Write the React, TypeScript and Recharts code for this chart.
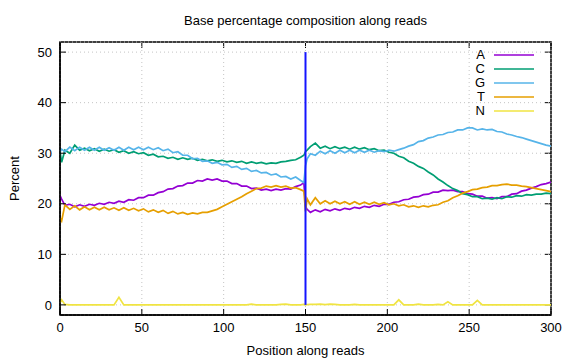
import React from 'react';
import { LineChart, Line, XAxis, YAxis, CartesianGrid, ReferenceLine, Legend } from 'recharts';

const FONT = '"Liberation Sans", Arial, sans-serif';

// read position along reads
const positions = [
  0, 1, 3, 6, 9, 12, 15, 18, 21, 24,
  27, 30, 33, 36, 39, 42, 45, 48, 51, 54,
  57, 60, 63, 66, 69, 72, 75, 78, 81, 84,
  87, 90, 93, 96, 99, 102, 105, 108, 111, 114,
  117, 120, 123, 126, 129, 132, 135, 138, 141, 144,
  147, 149, 150, 151, 153, 156, 159, 162, 165, 168,
  171, 174, 177, 180, 183, 186, 189, 192, 195, 198,
  201, 204, 207, 210, 213, 216, 219, 222, 225, 228,
  231, 234, 237, 240, 243, 246, 249, 252, 255, 258,
  261, 264, 267, 270, 273, 276, 279, 282, 285, 288,
  291, 294, 297, 300,
];

const aPct = [
  21.6, 20.9, 19.7, 19.9, 19.4, 19.8, 19.5, 19.9, 19.7, 20.1,
  19.9, 20.3, 20.1, 20.5, 20.3, 20.8, 20.7, 21.2, 21.2, 21.7,
  21.7, 22.2, 22.4, 22.9, 23.0, 23.5, 23.6, 24.1, 24.1, 24.6,
  24.5, 24.9, 24.7, 24.9, 24.5, 24.5, 24.0, 24.0, 23.5, 23.5,
  23.0, 23.1, 22.7, 22.9, 22.6, 22.9, 22.7, 23.0, 22.9, 23.4,
  23.7, 24.2, 19.5, 18.9, 18.3, 18.8, 18.4, 18.9, 18.6, 19.0,
  18.7, 19.1, 18.9, 19.3, 19.1, 19.5, 19.3, 19.7, 19.5, 19.9,
  19.9, 20.3, 20.4, 20.8, 20.9, 21.3, 21.4, 21.8, 21.9, 22.3,
  22.3, 22.7, 22.6, 22.7, 22.4, 22.4, 22.0, 21.9, 21.5, 21.5,
  21.1, 21.2, 21.0, 21.4, 21.4, 21.9, 22.0, 22.5, 22.7, 23.1,
  23.4, 23.8, 24.0, 24.3,
];

const cPct = [
  30.4, 28.2, 30.6, 30.0, 31.6, 30.6, 31.0, 30.5, 30.9, 30.4,
  30.8, 30.4, 30.7, 30.2, 30.5, 30.0, 30.3, 29.9, 30.1, 29.6,
  29.8, 29.3, 29.4, 29.0, 29.2, 28.8, 29.1, 28.8, 29.0, 28.6,
  28.8, 28.5, 28.7, 28.4, 28.6, 28.3, 28.5, 28.2, 28.4, 28.0,
  28.3, 28.0, 28.2, 27.9, 28.1, 28.0, 28.3, 28.4, 28.6, 28.7,
  29.2, 29.6, 30.3, 30.6, 31.3, 32.0, 31.0, 31.4, 30.9, 31.3,
  30.9, 31.2, 30.8, 31.2, 30.8, 31.1, 30.7, 30.9, 30.5, 30.6,
  30.2, 30.0, 29.4, 29.1, 28.4, 28.0, 27.4, 27.0, 26.3, 25.7,
  24.9, 24.3, 23.6, 23.0, 22.6, 22.0, 21.8, 21.4, 21.4, 21.0,
  21.1, 20.9, 21.2, 21.0, 21.4, 21.3, 21.6, 21.5, 21.8, 21.7,
  21.9, 21.9, 22.1, 22.0,
];

const gPct = [
  30.2, 30.8, 30.3, 31.2, 30.5, 31.2, 30.6, 31.2, 30.6, 31.2,
  30.6, 31.1, 30.6, 31.2, 30.6, 31.2, 30.7, 31.2, 30.7, 31.2,
  30.7, 31.1, 30.5, 30.8, 30.1, 30.3, 29.6, 29.6, 28.9, 29.0,
  28.4, 28.5, 28.0, 28.2, 27.7, 27.8, 27.2, 27.4, 26.8, 27.0,
  26.4, 26.6, 26.1, 26.2, 25.7, 25.9, 25.3, 25.4, 24.9, 25.3,
  24.6, 24.2, 27.5, 28.9, 29.9, 29.6, 30.4, 29.9, 30.5, 30.0,
  30.6, 30.1, 30.6, 30.1, 30.6, 30.2, 30.6, 30.2, 30.5, 30.3,
  30.6, 30.4, 30.7, 31.0, 31.4, 31.7, 32.3, 32.5, 33.0, 33.2,
  33.6, 33.7, 34.1, 34.2, 34.6, 34.6, 35.0, 35.0, 34.6, 34.8,
  34.6, 34.7, 34.3, 34.2, 33.8, 33.6, 33.3, 33.1, 32.8, 32.5,
  32.2, 31.9, 31.6, 31.4,
];

const tPct = [
  17.2, 16.6, 19.8, 18.9, 19.6, 18.8, 19.4, 18.8, 19.3, 18.8,
  19.3, 18.8, 19.2, 18.7, 19.2, 18.7, 19.1, 18.6, 19.0, 18.4,
  18.8, 18.3, 18.7, 18.1, 18.5, 18.0, 18.3, 17.9, 18.2, 18.0,
  18.3, 18.3, 18.6, 18.9, 19.4, 19.9, 20.4, 20.9, 21.4, 22.0,
  22.5, 23.0, 23.1, 23.5, 23.3, 23.6, 23.3, 23.5, 23.1, 23.2,
  22.8, 22.5, 18.5, 21.0, 19.8, 21.2, 20.0, 20.6, 20.0, 20.5,
  20.0, 20.4, 19.9, 20.4, 19.9, 20.3, 19.9, 20.3, 19.9, 20.2,
  19.8, 20.0, 19.6, 19.8, 19.4, 19.6, 19.3, 19.6, 19.4, 19.7,
  19.8, 20.3, 20.6, 21.2, 21.6, 22.1, 22.4, 22.8, 22.9, 23.2,
  23.3, 23.6, 23.6, 23.8, 23.9, 23.7, 23.7, 23.5, 23.4, 23.2,
  23.0, 22.8, 22.6, 22.4,
];

const nPct = [
  0.4, 1.0, 0.1, 0, 0, 0, 0, 0, 0, 0,
  0, 0, 0, 1.5, 0, 0, 0, 0, 0, 0,
  0, 0, 0, 0, 0, 0, 0, 0, 0, 0,
  0, 0, 0, 0, 0, 0, 0, 0, 0, 0,
  0.15, 0, 0, 0, 0, 0, 0.1, 0.15, 0, 0,
  0, 0.1, 0, 0.05, 0.1, 0.1, 0.15, 0.05, 0.15, 0.1,
  0, 0, 0, 0.1, 0, 0, 0, 0, 0, 0,
  0, 0, 1.0, 0, 0, 0, 0.15, 0, 0, 0,
  0.1, 0, 0.6, 0, 0, 0, 0, 0, 0.9, 0,
  0, 0, 0, 0, 0, 0, 0, 0, 0, 0,
  0, 0, 0, 0,
];

const xTicks = [0, 50, 100, 150, 200, 250, 300];
const yTicks = [0, 10, 20, 30, 40, 50];
const xDomain = [0, 300];
const yDomain = [-2, 52];

const series = [
  { key: 'A', color: '#9400d3' },
  { key: 'C', color: '#009e73' },
  { key: 'G', color: '#56b4e9' },
  { key: 'T', color: '#e69f00' },
  { key: 'N', color: '#f0e442' },
];

const data = positions.map((pos, i) => ({
  pos,
  A: aPct[i],
  C: cPct[i],
  G: gPct[i],
  T: tPct[i],
  N: nPct[i],
}));

// plot box (matches the chart margins / axis sizes below)
const PLOT = { left: 60, top: 42, width: 491, height: 273 };

const axisLine = { stroke: '#000', strokeWidth: 1.5 };
const tickLine = { stroke: '#000', strokeWidth: 1 };
const tickStyle = { fill: '#000', fontSize: 13, fontFamily: FONT };

const renderLegend = () => (
  <div style={{ fontFamily: FONT, fontSize: 13, color: '#000' }}>
    {series.map((s) => (
      <div key={s.key} style={{ display: 'flex', alignItems: 'center', height: 14 }}>
        <span style={{ width: 15, textAlign: 'right', lineHeight: '14px' }}>{s.key}</span>
        <svg width={49} height={14}>
          <line x1={9} x2={49} y1={7} y2={7} stroke={s.color} strokeWidth={1.7} />
        </svg>
      </div>
    ))}
  </div>
);

// gnuplot-style closed border with mirrored inward ticks on top and right.
// Drawn underneath the (transparent) chart surface.
const Border = () => {
  const { left, top, width, height } = PLOT;
  const right = left + width;
  return (
    <svg width={576} height={360} style={{ position: 'absolute', left: 0, top: 0 }}>
      <rect x={left} y={top} width={width} height={height} fill="none" stroke="#000" strokeWidth={1.5} />
      {xTicks.map((t) => {
        const x = left + ((t - xDomain[0]) / (xDomain[1] - xDomain[0])) * width;
        return <line key={`tx${t}`} x1={x} x2={x} y1={top} y2={top + 6} stroke="#000" strokeWidth={1} />;
      })}
      {yTicks.map((t) => {
        const y = top + ((yDomain[1] - t) / (yDomain[1] - yDomain[0])) * height;
        return <line key={`ty${t}`} x1={right} x2={right - 6} y1={y} y2={y} stroke="#000" strokeWidth={1} />;
      })}
    </svg>
  );
};

export default function App() {
  return (
    <div style={{ position: 'absolute', left: 0, top: 0, width: 576, height: 360, background: '#fff', fontFamily: FONT }}>
      <Border />
      <div
        style={{
          position: 'absolute', left: 60, top: 13, width: 491,
          textAlign: 'center', fontSize: 13, lineHeight: '16px', color: '#000',
        }}
      >
        Base percentage composition along reads
      </div>
      <div style={{ position: 'absolute', left: 0, top: 0 }}>
        <LineChart width={576} height={360} data={data} margin={{ top: 42, right: 25, left: 0, bottom: 0 }}>
          <CartesianGrid stroke="#c4c4c4" strokeDasharray="1 3" />
          <XAxis
            dataKey="pos" type="number" domain={xDomain} ticks={xTicks} allowDataOverflow
            height={45} tickSize={-6} tickMargin={14}
            axisLine={axisLine} tickLine={tickLine} tick={tickStyle}
            label={{ value: 'Position along reads', position: 'insideBottom', offset: 5, fill: '#000', fontSize: 13, fontFamily: FONT }}
          />
          <YAxis
            type="number" domain={yDomain} ticks={yTicks} allowDataOverflow
            width={60} tickSize={-6} tickMargin={14}
            axisLine={axisLine} tickLine={tickLine} tick={tickStyle}
            label={{ value: 'Percent', angle: -90, position: 'insideLeft', offset: 14, fill: '#000', fontSize: 13, fontFamily: FONT, style: { textAnchor: 'middle' } }}
          />
          {series.map((s) => (
            <Line
              key={s.key} type="linear" dataKey={s.key} stroke={s.color} strokeWidth={1.7}
              dot={false} activeDot={false} isAnimationActive={false}
            />
          ))}
          <ReferenceLine segment={[{ x: 150, y: 0 }, { x: 150, y: 50 }]} stroke="#1414ff" strokeWidth={2} />
          <Legend
            content={renderLegend} layout="vertical" align="center" verticalAlign="middle"
            wrapperStyle={{ position: 'absolute', left: 470, top: 48, width: 70, height: 'auto' }}
          />
        </LineChart>
      </div>
    </div>
  );
}
